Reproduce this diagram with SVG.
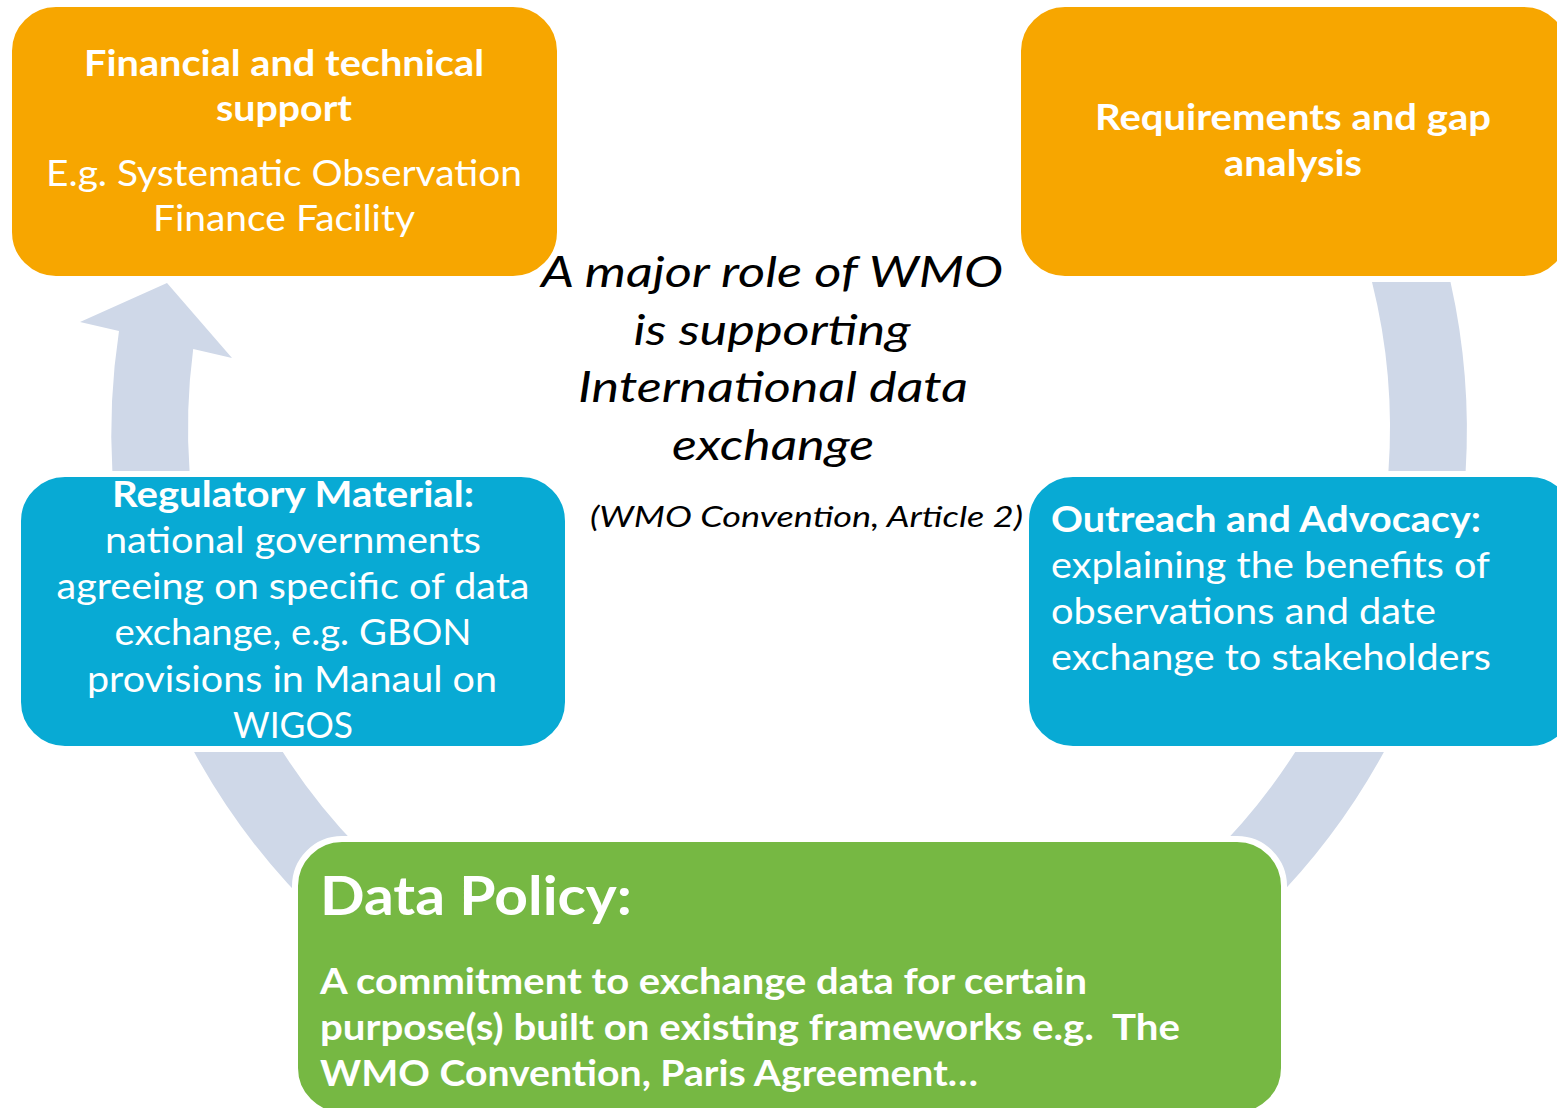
<svg xmlns="http://www.w3.org/2000/svg" width="1557" height="1108" viewBox="0 0 1557 1108">
<style>
.bg{fill:#ffffff}
.arc{fill:#CFD8E8}
.org{fill:#F7A600;stroke:#ffffff;stroke-width:6}
.blu{fill:#08AAD4;stroke:#ffffff;stroke-width:6}
.grn{fill:#76B843;stroke:#ffffff;stroke-width:6}
text{font-family:Lato,"Open Sans","Liberation Sans",sans-serif;fill:#ffffff}
.b{font-weight:bold}
.r{font-weight:normal}
.t{font-size:37px}
.c{text-anchor:middle}
.it{font-style:italic;fill:#000000}
</style>
<rect class="bg" x="0" y="0" width="1557" height="1108"/>
<g id="connectors">
<path class="arc" d="M112.4,472 A677,677 0 0 1 119,331 L80,322 L167,283 L232,358 L193.2,349 A601,601 0 0 0 189.6,472 Z"/>
<path class="arc" d="M1372,282 L1450.5,282 A677,677 0 0 1 1465.6,472 L1388.4,472 A601,601 0 0 0 1372,282 Z"/>
<path class="arc" d="M1295.2,752 L1383.9,752 A677,677 0 0 1 1254.6,920 L1134.2,920 A601,601 0 0 0 1295.2,752 Z"/>
<path class="arc" d="M194.1,752 L282.8,752 A601,601 0 0 0 443.8,920 L323.4,920 A677,677 0 0 1 194.1,752 Z"/>
</g>
<g id="financial">
<rect class="org" x="9" y="4" width="551" height="275" rx="47"/>
<text class="b t c" x="284" y="76" textLength="400" lengthAdjust="spacingAndGlyphs">Financial and technical</text>
<text class="b t c" x="284" y="121" textLength="136" lengthAdjust="spacingAndGlyphs">support</text>
<text class="r t c" x="284" y="186" textLength="476" lengthAdjust="spacingAndGlyphs">E.g. Systematic Observation</text>
<text class="r t c" x="284" y="231" textLength="262" lengthAdjust="spacingAndGlyphs">Finance Facility</text>
</g>
<g id="requirements">
<rect class="org" x="1018" y="4" width="553" height="275" rx="47"/>
<text class="b t c" x="1293" y="130" textLength="396" lengthAdjust="spacingAndGlyphs">Requirements and gap</text>
<text class="b t c" x="1293" y="176" textLength="138" lengthAdjust="spacingAndGlyphs">analysis</text>
</g>
<g id="center">
<text class="it c" style="font-size:43px" x="772" y="287" textLength="462" lengthAdjust="spacingAndGlyphs">A major role of WMO</text>
<text class="it c" style="font-size:43px" x="772" y="345" textLength="277" lengthAdjust="spacingAndGlyphs">is supporting</text>
<text class="it c" style="font-size:43px" x="773" y="402" textLength="390" lengthAdjust="spacingAndGlyphs">International data</text>
<text class="it c" style="font-size:43px" x="773" y="460" textLength="202" lengthAdjust="spacingAndGlyphs">exchange</text>
<text class="it" style="font-size:29px" x="590" y="527" textLength="433" lengthAdjust="spacingAndGlyphs">(WMO Convention, Article 2)</text>
</g>
<g id="regulatory">
<rect class="blu" x="18" y="474" width="550" height="275" rx="47"/>
<text class="b t c" x="293" y="507" textLength="362" lengthAdjust="spacingAndGlyphs">Regulatory Material:</text>
<text class="r t c" x="293" y="553" textLength="376" lengthAdjust="spacingAndGlyphs">national governments</text>
<text class="r t c" x="293" y="599" textLength="473" lengthAdjust="spacingAndGlyphs">agreeing on specific of data</text>
<text class="r t c" x="293" y="645" textLength="357" lengthAdjust="spacingAndGlyphs">exchange, e.g. GBON</text>
<text class="r t c" x="292" y="692" textLength="410" lengthAdjust="spacingAndGlyphs">provisions in Manaul on</text>
<text class="r t c" x="293" y="738" textLength="120" lengthAdjust="spacingAndGlyphs">WIGOS</text>
</g>
<g id="outreach">
<rect class="blu" x="1026" y="474" width="551" height="275" rx="47"/>
<text class="b t" x="1051" y="532" textLength="430" lengthAdjust="spacingAndGlyphs">Outreach and Advocacy:</text>
<text class="r t" x="1051" y="578" textLength="439" lengthAdjust="spacingAndGlyphs">explaining the benefits of</text>
<text class="r t" x="1051" y="624" textLength="385" lengthAdjust="spacingAndGlyphs">observations and date</text>
<text class="r t" x="1051" y="670" textLength="440" lengthAdjust="spacingAndGlyphs">exchange to stakeholders</text>
</g>
<g id="datapolicy">
<rect class="grn" x="295" y="839" width="989" height="276" rx="47"/>
<text class="b" style="font-size:54px" x="320" y="915" textLength="312" lengthAdjust="spacingAndGlyphs">Data Policy:</text>
<text class="b t" x="320" y="994" textLength="767" lengthAdjust="spacingAndGlyphs">A commitment to exchange data for certain</text>
<text class="b t" x="320" y="1040" textLength="860" lengthAdjust="spacingAndGlyphs">purpose(s) built on existing frameworks e.g.&#160; The</text>
<text class="b t" x="320" y="1086" textLength="658" lengthAdjust="spacingAndGlyphs">WMO Convention, Paris Agreement…</text>
</g>
</svg>
